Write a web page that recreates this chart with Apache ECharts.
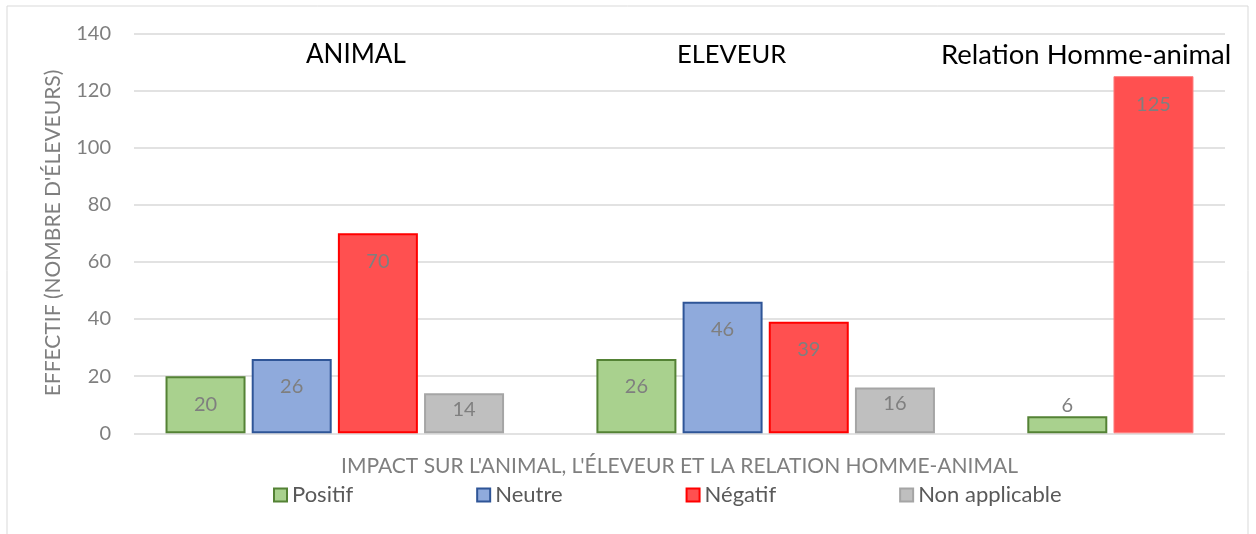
<!DOCTYPE html>
<html>
<head>
<meta charset="utf-8">
<script src="https://cdn.jsdelivr.net/npm/echarts@6/dist/echarts.min.js"></script>
<style>
    html, body { margin: 0; padding: 0; background: #ffffff; }
    #chart { width: 1256px; height: 534px; }
</style>
</head>
<body>
<div id="chart"></div>
<script>
    // groups shown above the bars
    const groups = ['ANIMAL', 'ELEVEUR', 'Relation Homme-animal'];
    const seriesNames = ['Positif', 'Neutre', 'Négatif', 'Non applicable'];

    // one value per group, null = no bar in that group
    const positif = [20, 26, 6];
    const neutre = [26, 46, null];
    const negatif = [70, 39, 125];
    const nonApplicable = [14, 16, null];

    const yTicks = [0, 20, 40, 60, 80, 100, 120, 140];
    const yTitle = "EFFECTIF (NOMBRE D'ÉLEVEURS)";
    const xTitle = "IMPACT SUR L'ANIMAL, L'ÉLEVEUR ET LA RELATION HOMME-ANIMAL";

    const fills = ['#a9d18e', '#8faadc', '#ff5050', '#bfbfbf'];
    const borders = ['#548235', '#2f5597', '#ff0000', '#a5a5a5'];

    const allValues = [positif, neutre, negatif, nonApplicable];

    // each group takes 5 bar slots (4 bars + gap), bars packed left in the group
    function slotData(si) {
        const out = [];
        for (let g = 0; g < groups.length; g++) {
            const v = allValues[si][g];
            if (v == null) continue;
            let pos = 0;
            for (let k = 0; k < si; k++) {
                if (allValues[k][g] != null) pos++;
            }
            const item = {value: [g * 5 + pos, v]};
            if (v < 10) {
                item.label = {position: 'top', distance: 1};
            } else if (v < 18) {
                item.label = {distance: 6};
            }
            // last red bar has no dark outline
            if (g === 2 && si === 2) {
                item.itemStyle = {borderColor: '#ff7c7c', borderWidth: 1};
            }
            out.push(item);
        }
        return out;
    }

    const chart = echarts.init(document.getElementById('chart'));
    const textColor = '#7f7f7f';
    const font = 'Lato, "Open Sans", sans-serif';

    chart.setOption({
        backgroundColor: '#ffffff',
        animation: false,
        textStyle: {fontFamily: font},
        grid: {
            left: 134,
            right: 31,
            top: 33.3,
            bottom: 100.7
        },
        legend: {
            bottom: 23,
            left: 268,
            itemWidth: 13,
            itemHeight: 13,
            itemGap: 123,
            icon: 'rect',
            textStyle: {fontSize: 22, color: '#595959', fontFamily: font},
            data: seriesNames
        },
        xAxis: {
            type: 'value',
            min: -0.83,
            max: 11.83,
            axisLine: {show: false},
            axisTick: {show: false},
            axisLabel: {show: false},
            splitLine: {show: false},
            name: xTitle,
            nameLocation: 'middle',
            nameGap: 22,
            nameTextStyle: {fontSize: 21, color: textColor, fontFamily: font}
        },
        yAxis: {
            type: 'value',
            min: yTicks[0],
            max: yTicks[yTicks.length - 1],
            interval: 20,
            axisLine: {show: false},
            axisTick: {show: false},
            axisLabel: {fontSize: 20, color: textColor, margin: 23, fontFamily: font},
            splitLine: {lineStyle: {color: '#d9d9d9', width: 1.5}}
        },
        graphic: [
            {
                type: 'rect',
                shape: {x: 7, y: 6, width: 1241, height: 545},
                style: {fill: 'none', stroke: '#d9d9d9', lineWidth: 1},
                silent: true
            },
            {
                // y axis title, rotated; group origin = text centre
                type: 'group',
                left: 53,
                top: 233,
                bounding: 'raw',
                children: [{
                    type: 'text',
                    rotation: Math.PI / 2,
                    style: {
                        text: yTitle, fontSize: 21, fill: textColor, fontFamily: font,
                        align: 'center', verticalAlign: 'middle',
                        textAlign: 'center', textVerticalAlign: 'middle'
                    }
                }]
            },
            {
                type: 'text', left: 306, top: 42,
                style: {text: groups[0], fontSize: 26, fill: '#000000', fontFamily: font}
            },
            {
                type: 'text', left: 677, top: 42,
                style: {text: groups[1], fontSize: 25.5, fill: '#000000', fontFamily: font}
            },
            {
                type: 'text', left: 941, top: 41,
                style: {text: groups[2], fontSize: 27.5, fill: '#000000', fontFamily: font}
            }
        ],
        series: seriesNames.map(function (name, si) {
            return {
                name: name,
                type: 'bar',
                barWidth: 80,
                barGap: '-100%',
                itemStyle: {color: fills[si], borderColor: borders[si], borderWidth: 2},
                label: {
                    show: true,
                    position: 'insideTop',
                    distance: 18,
                    fontSize: 20,
                    color: textColor,
                    fontFamily: font,
                    formatter: function (p) { return p.value[1]; }
                },
                data: slotData(si)
            };
        })
    });
</script>
</body>
</html>
